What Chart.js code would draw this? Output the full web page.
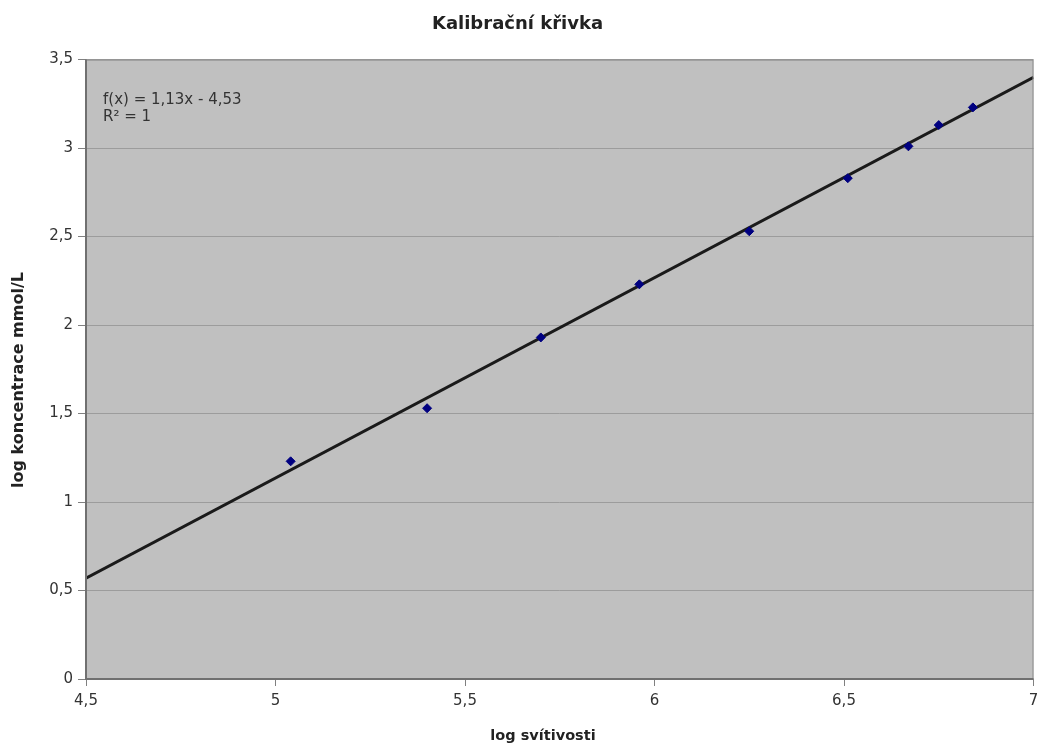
<!DOCTYPE html>
<html>
<head>
<meta charset="utf-8">
<script src="https://cdn.jsdelivr.net/npm/chart.js@4"></script>
<style>
  html, body { margin: 0; padding: 0; background: #ffffff; }
  #wrap { width: 1039px; height: 746px; }
</style>
</head>
<body>
<div id="wrap"><canvas id="chart" width="1039" height="746"></canvas></div>
<script>
// measured points
const logSvitivost = [5.04, 5.40, 5.70, 5.96, 6.25, 6.51, 6.67, 6.75, 6.84];
const logKoncentrace = [1.23, 1.53, 1.93, 2.23, 2.53, 2.83, 3.01, 3.13, 3.23];

// trend line ends
const trendX = [4.5, 7];
const trendY = [0.57, 3.40];

const equationLines = ['f(x) = 1,13x - 4,53', 'R² = 1'];
const xTitle = 'log svítivosti';
const yTitle = 'log koncentrace mmol/L';

function toPoints(xs, ys) {
  let pts = [];
  for (let i = 0; i < xs.length; i++) {
    pts.push({ x: xs[i], y: ys[i] });
  }
  return pts;
}

function comma(v) {
  return String(v).replace('.', ',');
}

const plotBackground = {
  id: 'plotBackground',
  beforeDraw(chart) {
    const { ctx, chartArea: a } = chart;
    ctx.save();
    ctx.fillStyle = '#c0c0c0';
    ctx.fillRect(a.left, a.top, a.right - a.left, a.bottom - a.top);
    ctx.restore();
  },
  afterDatasetsDraw(chart) {
    const { ctx, chartArea: a } = chart;
    ctx.save();
    ctx.strokeStyle = '#8a8a8a';
    ctx.lineWidth = 1;
    ctx.strokeRect(a.left + 0.5, a.top + 0.5, a.right - a.left - 1, a.bottom - a.top - 1);
    ctx.strokeStyle = '#707070';
    ctx.lineWidth = 2;
    ctx.beginPath();
    ctx.moveTo(a.left, a.top);
    ctx.lineTo(a.left, a.bottom);
    ctx.lineTo(a.right, a.bottom);
    ctx.stroke();
    // regression text
    ctx.fillStyle = '#333333';
    ctx.font = '15px "DejaVu Sans"';
    ctx.textBaseline = 'middle';
    ctx.fillText(equationLines[0], a.left + 17, 100);
    ctx.fillText(equationLines[1], a.left + 17, 117);
    ctx.restore();
  },
  afterDraw(chart) {
    const { ctx } = chart;
    ctx.save();
    ctx.fillStyle = '#222222';
    ctx.font = 'bold 14.5px "DejaVu Sans"';
    ctx.textAlign = 'center';
    ctx.textBaseline = 'middle';
    ctx.fillText(xTitle, 543, 736);
    ctx.font = 'bold 16px "DejaVu Sans"';
    ctx.translate(19, 380);
    ctx.rotate(-Math.PI / 2);
    ctx.fillText(yTitle, 0, 0);
    ctx.restore();
  }
};

const ctx = document.getElementById('chart').getContext('2d');
const chart = new Chart(ctx, {
  type: 'scatter',
  data: {
    datasets: [
      {
        label: 'trend',
        type: 'line',
        data: toPoints(trendX, trendY),
        borderColor: '#1a1a1a',
        borderWidth: 3,
        pointRadius: 0,
        fill: false,
        order: 2
      },
      {
        label: 'data',
        data: toPoints(logSvitivost, logKoncentrace),
        pointStyle: 'rectRot',
        pointRadius: 4.5,
        backgroundColor: '#000080',
        borderColor: '#000080',
        borderWidth: 1,
        order: 1
      }
    ]
  },
  options: {
    responsive: false,
    animation: false,
    layout: { padding: { left: 0, right: 4, top: 0, bottom: 31 } },
    plugins: {
      legend: { display: false },
      tooltip: { enabled: false },
      title: {
        display: true,
        text: 'Kalibrační křivka',
        color: '#222222',
        font: { family: 'DejaVu Sans', size: 18, weight: 'bold' },
        padding: { top: 14, bottom: 24 }
      }
    },
    scales: {
      x: {
        type: 'linear',
        min: 4.5,
        max: 7,
        afterFit(scale) {
          scale.height = 36;
          scale.paddingLeft = 0;
          scale.paddingRight = 0;
        },
        ticks: {
          stepSize: 0.5,
          color: '#333333',
          font: { family: 'DejaVu Sans', size: 15 },
          padding: 6,
          maxRotation: 0,
          callback: (v) => comma(v)
        },
        grid: {
          drawOnChartArea: false,
          drawTicks: true,
          tickLength: 7,
          tickColor: '#808080'
        },
        border: { display: false }
      },
      y: {
        type: 'linear',
        min: 0,
        max: 3.5,
        afterFit(scale) { scale.width = 86; },
        ticks: {
          stepSize: 0.5,
          color: '#333333',
          font: { family: 'DejaVu Sans', size: 15 },
          padding: 5,
          callback: (v) => comma(v)
        },
        grid: {
          color: '#9c9c9c',
          lineWidth: 1,
          drawTicks: true,
          tickLength: 8,
          tickColor: '#808080'
        },
        border: { display: false }
      }
    }
  },
  plugins: [plotBackground]
});
</script>
</body>
</html>
